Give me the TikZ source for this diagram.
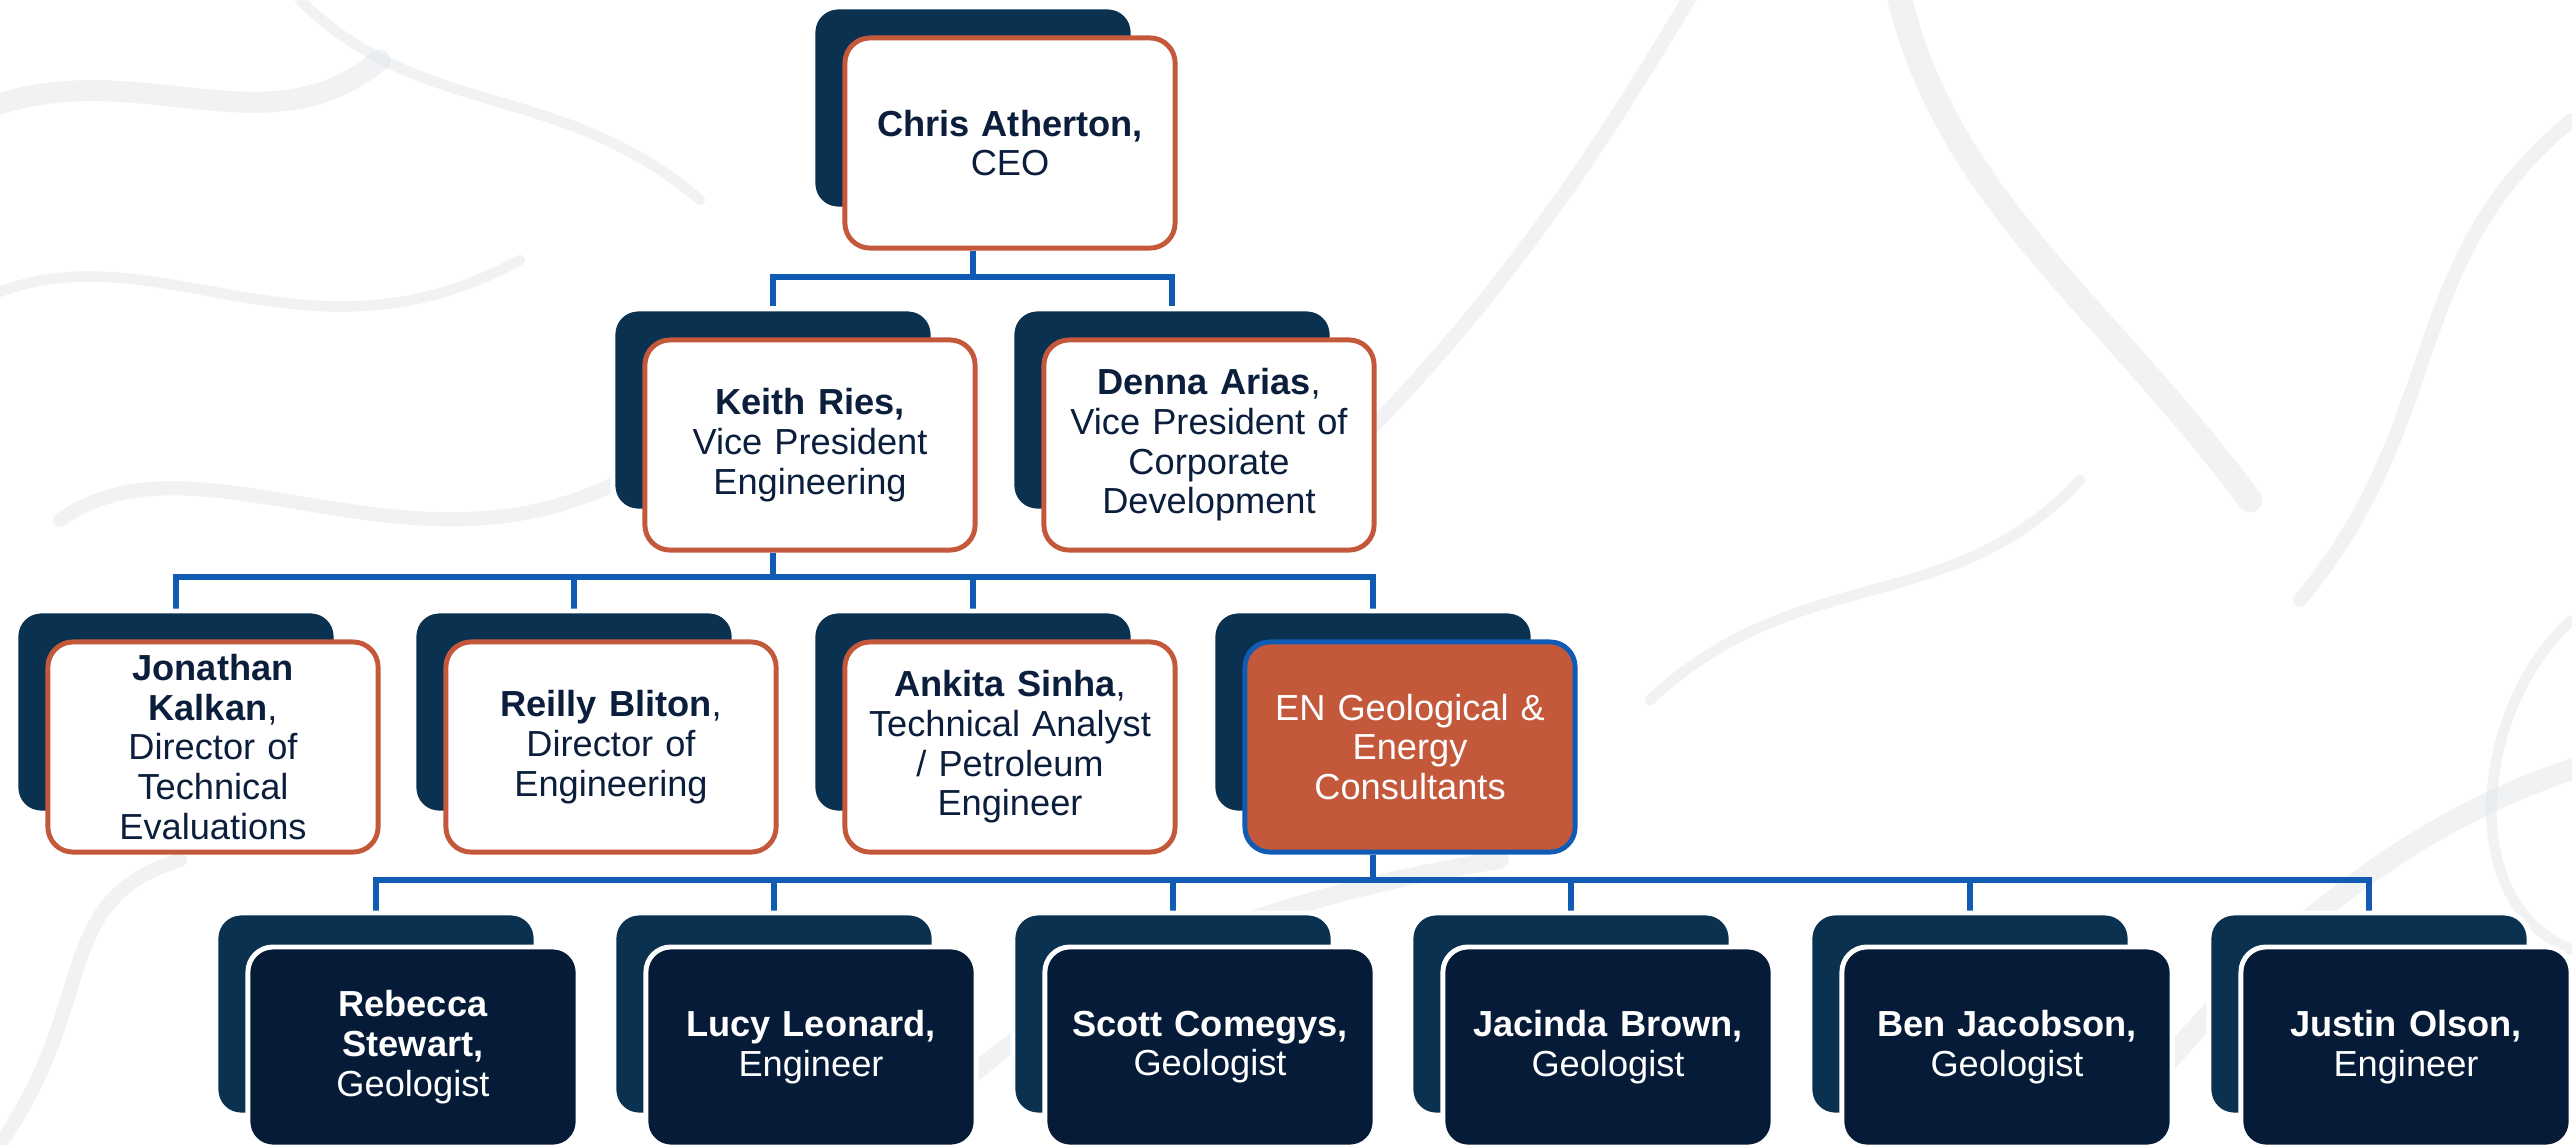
\documentclass[tikz,border=0pt]{standalone}
\usepackage{fontspec}
\setmainfont{Liberation Sans}
\usetikzlibrary{calc}
\definecolor{rust}{HTML}{C4583B}
\definecolor{linkblue}{HTML}{105CB4}
\definecolor{inknavy}{HTML}{0B1E3C}
\definecolor{deepnavy}{HTML}{061B38}
\definecolor{slate}{HTML}{0A3150}
\definecolor{swirlgray}{HTML}{E2E6EB}
\pgfdeclarelayer{marble}
\pgfdeclarelayer{wires}
\pgfsetlayers{marble,wires,main}
\tikzset{
  backcard/.style={fill=slate, draw=white, line width=1.4pt, rounded corners=0.25cm,
    minimum width=3.2cm, minimum height=2.02cm, inner sep=0pt},
  card/.style={fill=white, draw=rust, line width=1.4pt, rounded corners=0.25cm,
    minimum width=3.3cm, minimum height=2.1cm, align=center, text=inknavy,
    font=\fontsize{10.3}{11.3}\selectfont, inner sep=0pt, text width=3.15cm},
  unitcard/.style={card, fill=rust, draw=linkblue, text=white},
  staffcard/.style={card, fill=deepnavy, draw=white, text=white, minimum height=2.0cm},
  conn/.style={draw=linkblue, line width=1.5pt},
  swirl/.style={draw=swirlgray, line cap=round, opacity=0.5},
}
\begin{document}
\begin{tikzpicture}[x=0.01cm, y=-0.01cm]
\clip (0,0) rectangle (2572,1144);

% paper and faint marble veins in the backdrop
\begin{pgfonlayer}{marble}
  \fill[white] (0,0) rectangle (2572,1144);
  \draw[swirl, line width=6pt] (-40,120) .. controls (120,40) and (260,160) .. (380,60);
  \draw[swirl, line width=3pt] (-20,300) .. controls (150,220) and (300,380) .. (520,260);
  \draw[swirl, line width=4pt] (60,520) .. controls (200,420) and (420,600) .. (640,470);
  \draw[swirl, line width=3pt] (300,0) .. controls (420,120) and (560,80) .. (700,200);
  \draw[swirl, line width=5pt] (900,1144) .. controls (1050,980) and (1250,900) .. (1500,860);
  \draw[swirl, line width=4pt] (1350,450) .. controls (1500,300) and (1600,150) .. (1700,-20);
  \draw[swirl, line width=7pt] (1900,0) .. controls (1950,200) and (2100,300) .. (2250,500);
  \draw[swirl, line width=4pt] (2572,120) .. controls (2400,260) and (2450,420) .. (2300,600);
  \draw[swirl, line width=6pt] (2100,1144) .. controls (2250,950) and (2400,820) .. (2600,760);
  \draw[swirl, line width=3pt] (1650,700) .. controls (1800,560) and (1950,620) .. (2080,480);
  \draw[swirl, line width=3pt] (2572,950) .. controls (2450,900) and (2480,700) .. (2572,620);
  \draw[swirl, line width=4pt] (0,1144) .. controls (100,1000) and (50,900) .. (180,860);
\end{pgfonlayer}

% level 1
\node[backcard] (ceoB) at (973,108) {};
\node[card] (ceo) at (1010,143) {\textbf{Chris Atherton,}\\CEO};

% level 2
\node[backcard] (keithB) at (773,410) {};
\node[card] (keith) at (810,445) {\textbf{Keith Ries,}\\Vice President\\Engineering};
\node[backcard] (dennaB) at (1172,410) {};
\node[card] (denna) at (1209,445) {\textbf{Denna Arias},\\Vice President of\\Corporate\\Development};

% level 3
\node[backcard] (jonB) at (176,712) {};
\node[card] (jon) at (213,747) {\textbf{Jonathan}\\\textbf{Kalkan},\\Director of\\Technical\\Evaluations};
\node[backcard] (reillyB) at (574,712) {};
\node[card] (reilly) at (611,747) {\textbf{Reilly Bliton},\\Director of\\Engineering};
\node[backcard] (ankitaB) at (973,712) {};
\node[card] (ankita) at (1010,747) {\textbf{Ankita Sinha},\\Technical Analyst\\/ Petroleum\\Engineer};
\node[backcard] (enB) at (1373,712) {};
\node[unitcard] (en) at (1410,747) {EN Geological \&\\Energy\\Consultants};

% level 4
\node[backcard] (s1B) at (376,1014) {};
\node[staffcard] (s1) at (413,1047) {\textbf{Rebecca}\\\textbf{Stewart,}\\Geologist};
\node[backcard] (s2B) at (774,1014) {};
\node[staffcard] (s2) at (811,1047) {\textbf{Lucy Leonard,}\\Engineer};
\node[backcard] (s3B) at (1173,1014) {};
\node[staffcard] (s3) at (1210,1047) {\textbf{Scott Comegys,}\\Geologist};
\node[backcard] (s4B) at (1571,1014) {};
\node[staffcard] (s4) at (1608,1047) {\textbf{Jacinda Brown,}\\Geologist};
\node[backcard] (s5B) at (1970,1014) {};
\node[staffcard] (s5) at (2007,1047) {\textbf{Ben Jacobson,}\\Geologist};
\node[backcard] (s6B) at (2369,1014) {};
\node[staffcard] (s6) at (2406,1047) {\textbf{Justin Olson,}\\Engineer};

% reporting lines
\coordinate (busA) at (973,277);
\coordinate (busB) at (773,577);
\coordinate (busC) at (1373,880);
\begin{pgfonlayer}{wires}
  \draw[conn] (ceoB |- ceo.south) -- (busA);
  \draw[conn] (keithB.north) |- (busA) -| (dennaB.north);

  \draw[conn] (keithB |- keith.south) -- (busB);
  \draw[conn] (jonB.north) |- (busB) -| (enB.north);
  \draw[conn] (reillyB.north) |- (busB);
  \draw[conn] (ankitaB.north) |- (busB);

  \draw[conn] (enB |- en.south) -- (busC);
  \draw[conn] (s1B.north) |- (busC) -| (s6B.north);
  \draw[conn] (s2B.north) |- (busC);
  \draw[conn] (s3B.north) |- (busC);
  \draw[conn] (s4B.north) |- (busC);
  \draw[conn] (s5B.north) |- (busC);
\end{pgfonlayer}
\end{tikzpicture}
\end{document}
